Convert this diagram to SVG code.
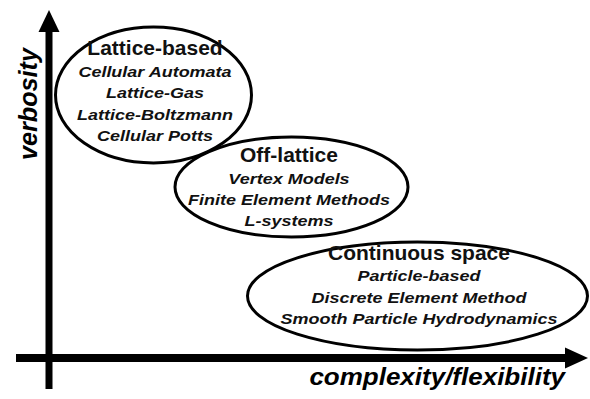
<svg xmlns="http://www.w3.org/2000/svg" width="590" height="399" viewBox="0 0 590 399">
<style>
.el{fill:none;stroke:#000;stroke-width:3}
.t{font-family:"Liberation Sans",Arial,sans-serif;font-weight:bold;fill:#111;text-anchor:middle}
.h{font-size:21px}
.i{font-size:18px;font-style:italic}
.ax{font-family:"Liberation Sans",Arial,sans-serif;font-weight:bold;font-style:italic;font-size:26px;fill:#000}
</style>
<rect width="590" height="399" fill="#fff"/>
<g id="connectors">
<line x1="49" y1="389" x2="49" y2="30" stroke="#000" stroke-width="7"/>
<polygon points="49,10 59.5,32 38.5,32" fill="#000"/>
<line x1="16" y1="358" x2="567" y2="358" stroke="#000" stroke-width="8"/>
<polygon points="588,358 565,347.5 565,368.5" fill="#000"/>
</g>
<g id="lattice-based">
<ellipse class="el" cx="153.5" cy="95" rx="98" ry="68"/>
<text class="t h" transform="translate(155 55) scale(1 .93)">Lattice-based</text>
<text class="t i" transform="translate(155 76.5) scale(1 .85)">Cellular Automata</text>
<text class="t i" transform="translate(155 98) scale(1 .85)">Lattice-Gas</text>
<text class="t i" transform="translate(155 119.5) scale(1 .85)">Lattice-Boltzmann</text>
<text class="t i" transform="translate(155 141) scale(1 .85)">Cellular Potts</text>
</g>
<g id="off-lattice">
<ellipse class="el" cx="291.5" cy="187" rx="116.5" ry="50"/>
<text class="t h" transform="translate(289 162) scale(1 .93)">Off-lattice</text>
<text class="t i" transform="translate(289 183.5) scale(1 .85)">Vertex Models</text>
<text class="t i" transform="translate(289 204.5) scale(1 .85)">Finite Element Methods</text>
<text class="t i" transform="translate(289 225.5) scale(1 .85)">L-systems</text>
</g>
<g id="continuous-space">
<ellipse class="el" cx="417.5" cy="296" rx="170" ry="54"/>
<text class="t h" transform="translate(419 260) scale(1 .93)">Continuous space</text>
<text class="t i" transform="translate(419 281) scale(1 .85)">Particle-based</text>
<text class="t i" transform="translate(419 302.5) scale(1 .85)">Discrete Element Method</text>
<text class="t i" transform="translate(419 323.5) scale(1 .85)">Smooth Particle Hydrodynamics</text>
</g>
<g id="axis-labels">
<text class="ax" text-anchor="end" transform="translate(565 385) scale(1 .92)">complexity/flexibility</text>
<text class="ax" x="-160" y="37" textLength="112" lengthAdjust="spacingAndGlyphs" transform="rotate(-90)">verbosity</text>
</g>
</svg>
